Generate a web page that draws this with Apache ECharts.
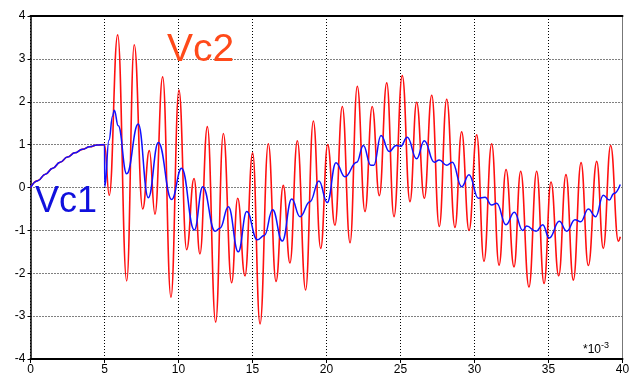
<!DOCTYPE html>
<html>
<head>
<meta charset="utf-8">
<script src="https://cdn.jsdelivr.net/npm/echarts@6/dist/echarts.min.js"></script>
<style>html,body{margin:0;padding:0;background:#fff}#c{width:634px;height:382px}</style>
</head>
<body>
<div id="c"></div>
<script>
// x in units of 1e-3
const xTicks = [0, 5, 10, 15, 20, 25, 30, 35, 40];
const yTicks = [-4, -3, -2, -1, 0, 1, 2, 3, 4];

// shared charging segment (0..5)
const rise = [[0,0],[0.5,0.16],[1,0.31],[1.5,0.45],[2,0.59],[2.5,0.71],[3,0.81],[3.5,0.89],[4,0.95],[4.5,0.99],[5,1.0]];

const vc2Points = [
 [5.32,-0.18],[5.89,3.56],[6.50,-2.18],[7.01,3.33],[7.58,-0.50],[8.03,0.86],[8.41,-0.62],[8.93,2.58],
 [9.49,-2.56],[10.03,2.27],[10.55,-1.45],[11.05,0.21],[11.45,-1.55],[11.95,1.42],[12.51,-3.14],[13.03,1.26],
 [13.59,-2.22],[14.0,-0.25],[14.49,-2.06],[15.01,0.81],[15.51,-3.18],[16.07,1.02],[16.59,-2.19],[17.08,0.05],
 [17.53,-1.76],[18.03,1.09],[18.59,-2.39],[19.11,1.55],[19.61,-1.42],[20.08,1.0],[20.57,-0.88],[21.07,1.89],
 [21.59,-1.29],[22.08,2.36],[22.60,-0.56],[23.09,1.89],[23.57,-0.19],[24.07,2.44],[24.56,-0.68],[25.12,2.61],
 [25.64,-0.33],[26.09,1.99],[26.61,-0.25],[27.11,2.15],[27.62,-0.91],[28.12,2.06],[28.68,-0.93],[29.13,1.30],
 [29.63,-1.0],[30.15,1.23],[30.64,-1.72],[31.16,1.02],[31.66,-1.81],[32.13,0.42],[32.67,-1.85],[33.12,0.38],
 [33.68,-2.32],[34.20,0.38],[34.70,-2.24],[35.17,0.13],[35.69,-2.06],[36.18,0.30],[36.68,-2.16],[37.20,0.58],
 [37.69,-1.82],[38.26,0.61],[38.70,-1.42],[39.20,0.98],[39.72,-1.25],[39.85,-1.15]
];

const vc1Points = [
 [5.02,0.02],[5.3,1.1],[5.55,1.67],[5.66,1.80],[5.93,1.44],[6.50,0.32],[7.28,1.48],[7.96,-0.24],[8.64,1.05],
 [9.54,-0.28],[10.21,0.45],[11.07,-0.99],[11.64,0.02],[12.47,-1.02],[12.8,-0.95],[13.37,-0.45],[14.04,-1.50],
 [14.61,-0.56],[15.32,-1.22],[15.8,-1.12],[16.36,-0.52],[17.01,-1.25],[17.65,-0.27],[18.21,-0.68],[18.88,-0.33],
 [19.49,0.15],[20.05,-0.35],[20.64,0.58],[21.25,0.25],[22.04,0.59],[22.49,0.98],[22.99,0.52],[23.2,0.52],
 [23.68,1.21],[24.24,0.84],[24.70,0.98],[25.0,0.96],[25.46,1.17],[26.09,0.67],[26.61,1.09],[27.28,0.59],
 [27.62,0.64],[28.12,0.52],[28.5,0.59],[29.13,0.02],[29.63,0.30],[30.26,-0.25],[30.71,-0.23],[31.16,-0.41],
 [31.5,-0.37],[32.13,-0.87],[32.69,-0.58],[33.26,-1.0],[33.52,-0.90],[34.16,-1.02],[34.61,-0.87],[35.05,-1.18],
 [35.73,-0.79],[36.23,-1.02],[36.79,-0.75],[37.17,-0.80],[37.69,-0.50],[38.19,-0.68],[38.70,-0.18],[39.11,-0.29],
 [39.42,-0.14],[39.85,0.07]
];

const chart = echarts.init(document.getElementById('c'), null, {renderer:'canvas'});
const font = 'Liberation Sans, Arial, sans-serif';
const gridLine = {show:true, lineStyle:{color:'#000', type:[1,2], width:1}};
chart.setOption({
  animation:false,
  backgroundColor:'#fff',
  grid:{left:30.5, right:11.5, top:16, bottom:23, containLabel:false},
  xAxis:[{
    type:'value', min:0, max:40, interval:5, position:'bottom',
    axisLine:{show:true, onZero:false, lineStyle:{color:'#000', width:2}},
    axisTick:{show:true, length:4, inside:false, lineStyle:{color:'#000'}},
    axisLabel:{fontFamily:font, fontSize:12, color:'#000', margin:5,
      formatter:v => xTicks.includes(v) ? String(v) : ''},
    splitLine:gridLine
  },{
    type:'value', min:0, max:40, position:'top',
    axisLine:{show:true, onZero:false, lineStyle:{color:'#000', width:2}},
    axisTick:{show:false}, axisLabel:{show:false}, splitLine:{show:false}
  }],
  yAxis:[{
    type:'value', min:-4, max:4, interval:1, position:'left',
    axisLine:{show:true, onZero:false, lineStyle:{color:'#000', width:1.5}},
    axisTick:{show:true, length:3, lineStyle:{color:'#000'}},
    axisLabel:{fontFamily:font, fontSize:12, color:'#000', margin:5,
      formatter:v => yTicks.includes(v) ? String(v) : ''},
    splitLine:gridLine
  },{
    type:'value', min:-4, max:4, position:'right',
    axisLine:{show:true, onZero:false, lineStyle:{color:'#777', width:1}},
    axisTick:{show:false}, axisLabel:{show:false}, splitLine:{show:false}
  }],
  series:[
    {name:'Vc2', type:'line', data:rise.concat(vc2Points), showSymbol:false, smooth:0.45, smoothMonotone:'x',
     lineStyle:{color:'#ff1010', width:1.6}, z:2},
    {name:'Vc1', type:'line', data:rise.concat(vc1Points), showSymbol:false, smooth:0.45, smoothMonotone:'x',
     lineStyle:{color:'#1010ff', width:1.5}, z:3}
  ],
  graphic:[
    {type:'text', left:35, top:184, z:10, style:{text:'Vc1', fontFamily:font, fontSize:36, fill:'#1010dd'}},
    {type:'text', left:167, top:31, z:10, style:{text:'Vc2', fontFamily:font, fontSize:39, fill:'#ff4a1a'}},
    {type:'text', left:583, top:341, z:10, style:{
      text:'{b|*10}{s|-3}', rich:{b:{fontFamily:font, fontSize:12, fill:'#000', verticalAlign:'bottom'},
      s:{fontFamily:font, fontSize:9, fill:'#000', verticalAlign:'top', padding:[0,0,6,0]}}}}
  ]
});
</script>
</body>
</html>
